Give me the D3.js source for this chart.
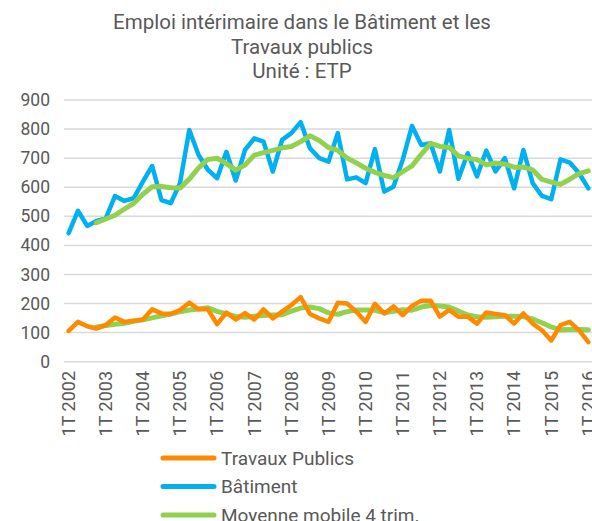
<!DOCTYPE html>
<html><head><meta charset="utf-8">
<script src="https://cdn.jsdelivr.net/npm/d3@7"></script>
<style>
html,body{margin:0;padding:0;background:#fff;}
svg{display:block;font-family:Roboto,"Noto Sans",sans-serif;}
</style></head>
<body>
<svg id="c" width="592" height="521"></svg>
<script>
const titleLines = ["Emploi intérimaire dans le Bâtiment et les", "Travaux publics", "Unité : ETP"];
const categories = [
 "1T 2002","2T 2002","3T 2002","4T 2002","1T 2003","2T 2003","3T 2003","4T 2003",
 "1T 2004","2T 2004","3T 2004","4T 2004","1T 2005","2T 2005","3T 2005","4T 2005",
 "1T 2006","2T 2006","3T 2006","4T 2006","1T 2007","2T 2007","3T 2007","4T 2007",
 "1T 2008","2T 2008","3T 2008","4T 2008","1T 2009","2T 2009","3T 2009","4T 2009",
 "1T 2010","2T 2010","3T 2010","4T 2010","1T 2011","2T 2011","3T 2011","4T 2011",
 "1T 2012","2T 2012","3T 2012","4T 2012","1T 2013","2T 2013","3T 2013","4T 2013",
 "1T 2014","2T 2014","3T 2014","4T 2014","1T 2015","2T 2015","3T 2015","4T 2015",
 "1T 2016"];
const xTickLabels = ["1T 2002","1T 2003","1T 2004","1T 2005","1T 2006","1T 2007","1T 2008",
 "1T 2009","1T 2010","1T 2011","1T 2012","1T 2013","1T 2014","1T 2015","1T 2016"];
const yTicks = [0,100,200,300,400,500,600,700,800,900];
const batiment = [442,519,467,484,493,570,553,562,619,673,556,545,614,797,
 711,660,631,722,623,728,768,757,654,763,786,824,734,700,688,
 786,627,634,614,731,585,602,695,811,745,751,654,797,629,
 717,637,726,654,700,596,728,614,570,559,696,685,648,596];
const travauxPublics = [106,137,122,114,126,152,137,141,145,180,166,164,178,203,
 180,180,129,169,145,167,145,180,149,172,195,222,164,149,137,
 203,200,172,137,199,166,190,160,192,210,210,155,178,155,
 155,131,169,164,160,131,166,131,108,73,126,137,108,67];
const seriesNames = ["Travaux Publics","Bâtiment","Moyenne mobile 4 trim."];
const colors = {tp:"#FF8A00", bat:"#00B0F0", ma:"#92D050"};
const maPeriod = 4;

// Excel-style 4-period moving average trendline (derived from the series)
function movingAvg(arr, n){
  return arr.map((v,i)=> i < n-1 ? null : d3.mean(arr.slice(i-n+1, i+1)));
}

const svg = d3.select("#c");
const x = d3.scaleBand().domain(categories).range([64, 593]).padding(0);
const cx = c => x(c) + x.bandwidth()/2;
const y = d3.scaleLinear().domain([0, 900]).range([361.7, 100]);

// gridlines
svg.append("g").selectAll("line").data(yTicks).join("line")
  .attr("x1", 64).attr("x2", 593)
  .attr("y1", d=>y(d)).attr("y2", d=>y(d))
  .attr("stroke", "#D9D9D9").attr("stroke-width", 1.5);

// y axis labels via d3 axis
const yAxis = svg.append("g").attr("transform","translate(52,0)")
  .call(d3.axisLeft(y).tickValues(yTicks).tickSize(0).tickPadding(2));
yAxis.select(".domain").remove();
yAxis.selectAll("text").attr("font-size", 17.5).attr("fill", "#595959")
  .attr("font-family","Roboto,sans-serif");

// x axis labels
const xAxis = svg.append("g").attr("transform","translate(0,371)")
  .call(d3.axisBottom(x).tickValues(xTickLabels).tickSize(0).tickPadding(0));
xAxis.select(".domain").remove();
xAxis.selectAll("text")
  .attr("font-size", 18).attr("fill", "#595959").attr("font-family","Roboto,sans-serif")
  .attr("text-anchor","end")
  .attr("transform","rotate(-90)")
  .attr("x", 0).attr("y", 0).attr("dy","0.35em");

const line = d3.line().defined(d=>d.v!==null).x(d=>cx(d.c)).y(d=>y(d.v)).curve(d3.curveLinear);
const toPts = arr => arr.map((v,i)=>({c:categories[i], v:v}));

function draw(arr, color, w){
  svg.append("path").datum(toPts(arr)).attr("d", line)
    .attr("fill","none").attr("stroke", color).attr("stroke-width", w)
    .attr("stroke-linejoin","round").attr("stroke-linecap","round");
}
draw(batiment, colors.bat, 4.5);
draw(movingAvg(batiment, maPeriod), colors.ma, 5);
draw(movingAvg(travauxPublics, maPeriod), colors.ma, 5);
draw(travauxPublics, colors.tp, 4.5);

// title
svg.append("g").selectAll("text").data(titleLines).join("text")
  .attr("x", 302).attr("y", (d,i)=>29 + i*24.5)
  .attr("text-anchor","middle").attr("font-size", 20.5).attr("fill","#595959")
  .text(d=>d);

// legend
const legColors = [colors.tp, colors.bat, colors.ma];
const leg = svg.append("g").selectAll("g").data(seriesNames).join("g")
  .attr("transform",(d,i)=>`translate(0,${458 + i*28.5})`);
leg.append("line").attr("x1",163).attr("x2",214).attr("y1",0).attr("y2",0)
  .attr("stroke",(d,i)=>legColors[i]).attr("stroke-width",5).attr("stroke-linecap","round");
leg.append("text").attr("x",221).attr("y",0).attr("dy","0.35em")
  .attr("font-size",19).attr("fill","#595959").text(d=>d);
</script>
</body></html>
